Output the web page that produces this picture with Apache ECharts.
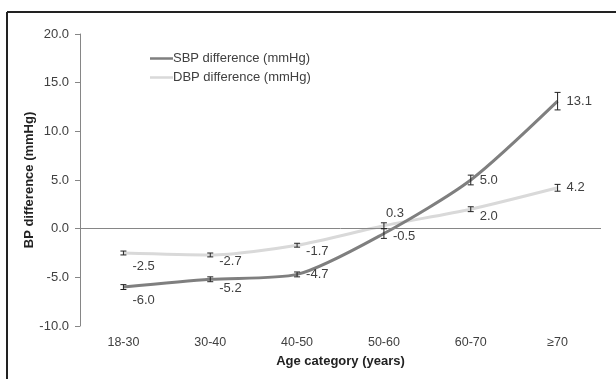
<!DOCTYPE html>
<html><head><meta charset="utf-8">
<script src="https://cdn.jsdelivr.net/npm/echarts@6/dist/echarts.min.js"></script>
<style>html,body{margin:0;padding:0;background:#fff}#c{width:616px;height:379px}</style>
</head><body><div id="c"></div>
<script>
const categories = ['18-30','30-40','40-50','50-60','60-70','\u226570'];
const sbpValues = [-6.0, -5.2, -4.7, -0.5, 5.0, 13.1];
const sbpErr = [0.25, 0.25, 0.25, 0.5, 0.5, 0.9];
const dbpValues = [-2.5, -2.7, -1.7, 0.3, 2.0, 4.2];
const dbpErr = [0.2, 0.2, 0.2, 0.3, 0.25, 0.35];
const yTicks = [-10, -5, 0, 5, 10, 15, 20];

const sbpLabelDy = [13, 9, 0, 3, 0, 0];
const dbpLabelDy = [13, 6, 6, 0, 7, 0];

const FONT = 'Liberation Sans';
const TXT = '#404040';

function labeled(vals, dys, topIdx) {
  return vals.map((v, i) => ({
    value: v,
    label: i === topIdx
      ? { show: true, position: 'top', distance: 6, offset: [11, 0] }
      : { show: true, position: 'right', distance: 9, offset: [0, dys[i]] }
  }));
}

function errSeries(name, vals, errs) {
  return {
    type: 'custom', name: name + '_err', silent: true, z: 5,
    data: vals.map((v, i) => [i, v - errs[i], v + errs[i]]),
    renderItem: function (params, api) {
      const lo = api.coord([api.value(0), api.value(1)]);
      const hi = api.coord([api.value(0), api.value(2)]);
      const w = 3;
      const st = { stroke: '#222', lineWidth: 1 };
      return { type: 'group', children: [
        { type: 'line', shape: { x1: lo[0], y1: lo[1], x2: hi[0], y2: hi[1] }, style: st },
        { type: 'line', shape: { x1: lo[0]-w, y1: lo[1], x2: lo[0]+w, y2: lo[1] }, style: st },
        { type: 'line', shape: { x1: hi[0]-w, y1: hi[1], x2: hi[0]+w, y2: hi[1] }, style: st }
      ]};
    }
  };
}

const chart = echarts.init(document.getElementById('c'), null, { renderer: 'canvas' });
chart.setOption({
  animation: false,
  textStyle: { fontFamily: FONT },
  grid: { left: 80, right: 15, top: 34, bottom: 53 },
  legend: {
    orient: 'vertical', left: 145, top: 47, itemGap: 6,
    itemWidth: 23, itemHeight: 2.5, icon: 'rect', selectedMode: false,
    textStyle: { fontFamily: FONT, fontSize: 13, color: TXT, padding: [0,0,0,-5] },
    data: ['SBP difference (mmHg)', 'DBP difference (mmHg)']
  },
  graphic: [
    { type: 'line', shape: { x1: 7, y1: 12, x2: 616, y2: 12 }, style: { stroke: '#222', lineWidth: 2 } },
    { type: 'line', shape: { x1: 7, y1: 12, x2: 7, y2: 379 }, style: { stroke: '#222', lineWidth: 2 } }
  ],
  xAxis: {
    type: 'category', data: categories, boundaryGap: true,
    axisLine: { show: false }, axisTick: { show: false },
    axisLabel: { color: TXT, fontSize: 12.5, margin: 10, fontFamily: FONT },
    name: 'Age category (years)', nameLocation: 'middle', nameGap: 29,
    nameTextStyle: { fontWeight: 'bold', fontSize: 13, color: '#222', fontFamily: FONT }
  },
  yAxis: {
    type: 'value', min: -10, max: 20, interval: 5,
    splitLine: { show: false },
    axisLine: { show: true, lineStyle: { color: '#868686', width: 1 } },
    axisTick: { show: true, length: 5, lineStyle: { color: '#868686' } },
    axisLabel: { color: TXT, fontSize: 13, margin: 11, fontFamily: FONT,
      formatter: v => yTicks.includes(v) ? v.toFixed(1) : '' },
    name: 'BP difference (mmHg)', nameLocation: 'middle', nameGap: 44, nameRotate: 90,
    nameMoveOverlap: false,
    nameTextStyle: { fontWeight: 'bold', fontSize: 13, color: '#222', fontFamily: FONT }
  },
  series: [
    {
      name: 'SBP difference (mmHg)', type: 'line', smooth: 0.25, showSymbol: true, symbol: 'circle', symbolSize: 0.01,
      z: 3,
      lineStyle: { color: '#7f7f7f', width: 3 }, itemStyle: { color: '#7f7f7f' },
      label: { color: TXT, fontSize: 13, fontFamily: FONT, formatter: p => p.value.toFixed(1) },
      data: labeled(sbpValues, sbpLabelDy, -1),
      markLine: { silent: true, symbol: 'none', label: { show: false },
        lineStyle: { color: '#868686', width: 1, type: 'solid' }, data: [{ yAxis: 0 }] }
    },
    {
      name: 'DBP difference (mmHg)', type: 'line', smooth: 0.25, showSymbol: true, symbol: 'circle', symbolSize: 0.01,
      z: 2,
      lineStyle: { color: '#d9d9d9', width: 3 }, itemStyle: { color: '#d9d9d9' },
      label: { color: TXT, fontSize: 13, fontFamily: FONT, formatter: p => p.value.toFixed(1) },
      data: labeled(dbpValues, dbpLabelDy, 3)
    },
    errSeries('SBP', sbpValues, sbpErr),
    errSeries('DBP', dbpValues, dbpErr)
  ]
});
</script></body></html>
